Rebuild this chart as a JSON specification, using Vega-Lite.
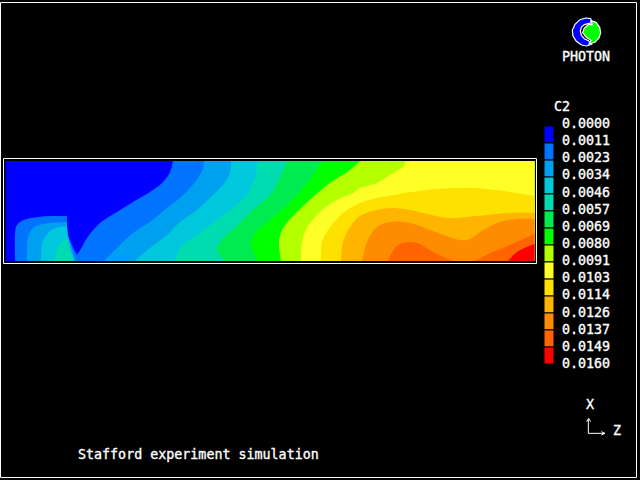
{"$schema":"https://vega.github.io/schema/vega-lite/v6.json","width":640,"height":480,"padding":0,"autosize":"none","background":"#000000","view":{"stroke":null},"config":{"axis":{"disable":true},"text":{"font":"DejaVu Sans Mono","fontSize":13.33,"color":"#ffffff","align":"left","baseline":"middle","stroke":"#ffffff","strokeWidth":0.35}},
"datasets":{
"contours":[
{"p":"0","i":0,"z":0.5,"x":0},{"p":"0","i":1,"z":0.5,"x":100},{"p":"0","i":1.5,"z":0.5,"x":100},{"p":"0","i":2,"z":529.5,"x":100},{"p":"0","i":2.5,"z":529.5,"x":100},{"p":"0","i":3,"z":529.5,"x":0},
{"p":"1","i":0,"z":10,"x":0},{"p":"1","i":1,"z":10,"x":26},{"p":"1","i":2,"z":11,"x":34},{"p":"1","i":3,"z":15,"x":39},{"p":"1","i":4,"z":22,"x":42},{"p":"1","i":5,"z":33,"x":44},{"p":"1","i":6,"z":45,"x":45},{"p":"1","i":7,"z":62,"x":45},{"p":"1","i":7.5,"z":62,"x":45},{"p":"1","i":8,"z":63,"x":26},{"p":"1","i":9,"z":72,"x":6},{"p":"1","i":9.5,"z":72,"x":6},{"p":"1","i":10,"z":77,"x":14},{"p":"1","i":11,"z":82,"x":23},{"p":"1","i":12,"z":95,"x":38},{"p":"1","i":13,"z":112,"x":49},{"p":"1","i":14,"z":128,"x":59},{"p":"1","i":15,"z":145,"x":69},{"p":"1","i":16,"z":158,"x":79},{"p":"1","i":17,"z":165,"x":89},{"p":"1","i":18,"z":168,"x":100},{"p":"1","i":18.5,"z":168,"x":100},{"p":"1","i":19,"z":529.5,"x":100},{"p":"1","i":19.5,"z":529.5,"x":100},{"p":"1","i":20,"z":529.5,"x":0},
{"p":"2a","i":0,"z":22,"x":0},{"p":"2a","i":1,"z":23,"x":23},{"p":"2a","i":2,"z":28,"x":33},{"p":"2a","i":3,"z":38,"x":37},{"p":"2a","i":4,"z":62,"x":39},{"p":"2a","i":4.5,"z":62,"x":39},{"p":"2a","i":5,"z":63,"x":26},{"p":"2a","i":6,"z":70,"x":3},{"p":"2a","i":6.5,"z":70,"x":3},{"p":"2a","i":7,"z":70,"x":0},
{"p":"2b","i":0,"z":99,"x":0},{"p":"2b","i":1,"z":112,"x":13},{"p":"2b","i":2,"z":128,"x":28},{"p":"2b","i":3,"z":145,"x":39},{"p":"2b","i":4,"z":162,"x":53},{"p":"2b","i":5,"z":175,"x":63},{"p":"2b","i":6,"z":185,"x":73},{"p":"2b","i":7,"z":193,"x":83},{"p":"2b","i":8,"z":198,"x":93},{"p":"2b","i":9,"z":199,"x":100},{"p":"2b","i":9.5,"z":199,"x":100},{"p":"2b","i":10,"z":529.5,"x":100},{"p":"2b","i":10.5,"z":529.5,"x":100},{"p":"2b","i":11,"z":529.5,"x":0},
{"p":"3a","i":0,"z":36,"x":0},{"p":"3a","i":1,"z":37,"x":16},{"p":"3a","i":2,"z":40,"x":24},{"p":"3a","i":3,"z":48,"x":32},{"p":"3a","i":4,"z":62,"x":35},{"p":"3a","i":4.5,"z":62,"x":35},{"p":"3a","i":5,"z":63,"x":24},{"p":"3a","i":6,"z":69,"x":1},{"p":"3a","i":6.5,"z":69,"x":1},{"p":"3a","i":7,"z":69,"x":0},
{"p":"3b","i":0,"z":130,"x":0},{"p":"3b","i":1,"z":145,"x":13},{"p":"3b","i":2,"z":162,"x":26},{"p":"3b","i":3,"z":175,"x":39},{"p":"3b","i":4,"z":192,"x":51},{"p":"3b","i":5,"z":208,"x":66},{"p":"3b","i":6,"z":218,"x":76},{"p":"3b","i":7,"z":225,"x":89},{"p":"3b","i":8,"z":226,"x":100},{"p":"3b","i":8.5,"z":226,"x":100},{"p":"3b","i":9,"z":529.5,"x":100},{"p":"3b","i":9.5,"z":529.5,"x":100},{"p":"3b","i":10,"z":529.5,"x":0},
{"p":"4a","i":0,"z":50,"x":0},{"p":"4a","i":1,"z":52,"x":11},{"p":"4a","i":2,"z":57,"x":19},{"p":"4a","i":3,"z":62,"x":21},{"p":"4a","i":3.5,"z":62,"x":21},{"p":"4a","i":4,"z":68,"x":0},
{"p":"4b","i":0,"z":170,"x":0},{"p":"4b","i":1,"z":175,"x":13},{"p":"4b","i":2,"z":192,"x":26},{"p":"4b","i":3,"z":208,"x":38},{"p":"4b","i":4,"z":225,"x":51},{"p":"4b","i":5,"z":242,"x":66},{"p":"4b","i":6,"z":250,"x":83},{"p":"4b","i":7,"z":253,"x":100},{"p":"4b","i":7.5,"z":253,"x":100},{"p":"4b","i":8,"z":529.5,"x":100},{"p":"4b","i":8.5,"z":529.5,"x":100},{"p":"4b","i":9,"z":529.5,"x":0},
{"p":"5","i":0,"z":220,"x":0},{"p":"5","i":1,"z":212,"x":11},{"p":"5","i":2,"z":217,"x":21},{"p":"5","i":3,"z":233,"x":36},{"p":"5","i":4,"z":248,"x":51},{"p":"5","i":5,"z":265,"x":66},{"p":"5","i":6,"z":275,"x":83},{"p":"5","i":7,"z":282,"x":100},{"p":"5","i":7.5,"z":282,"x":100},{"p":"5","i":8,"z":529.5,"x":100},{"p":"5","i":8.5,"z":529.5,"x":100},{"p":"5","i":9,"z":529.5,"x":0},
{"p":"6","i":0,"z":252,"x":0},{"p":"6","i":1,"z":246,"x":18},{"p":"6","i":2,"z":250,"x":28},{"p":"6","i":3,"z":265,"x":41},{"p":"6","i":4,"z":282,"x":56},{"p":"6","i":5,"z":298,"x":73},{"p":"6","i":6,"z":308,"x":86},{"p":"6","i":7,"z":317,"x":100},{"p":"6","i":7.5,"z":317,"x":100},{"p":"6","i":8,"z":529.5,"x":100},{"p":"6","i":8.5,"z":529.5,"x":100},{"p":"6","i":9,"z":529.5,"x":0},
{"p":"7","i":0,"z":276,"x":0},{"p":"7","i":1,"z":274,"x":19},{"p":"7","i":2,"z":278,"x":33},{"p":"7","i":3,"z":292,"x":49},{"p":"7","i":4,"z":308,"x":64},{"p":"7","i":5,"z":325,"x":78},{"p":"7","i":6,"z":345,"x":91},{"p":"7","i":7,"z":355,"x":100},{"p":"7","i":7.5,"z":355,"x":100},{"p":"7","i":8,"z":529.5,"x":100},{"p":"7","i":8.5,"z":529.5,"x":100},{"p":"7","i":9,"z":529.5,"x":0},
{"p":"8","i":0,"z":296,"x":0},{"p":"8","i":1,"z":297,"x":19},{"p":"8","i":2,"z":302,"x":33},{"p":"8","i":3,"z":315,"x":49},{"p":"8","i":4,"z":332,"x":61},{"p":"8","i":5,"z":348,"x":68},{"p":"8","i":6,"z":355,"x":73},{"p":"8","i":7,"z":372,"x":78},{"p":"8","i":8,"z":388,"x":88},{"p":"8","i":9,"z":398,"x":94},{"p":"8","i":10,"z":401,"x":100},{"p":"8","i":10.5,"z":401,"x":100},{"p":"8","i":11,"z":529.5,"x":100},{"p":"8","i":11.5,"z":529.5,"x":100},{"p":"8","i":12,"z":529.5,"x":0},
{"p":"9","i":0,"z":316,"x":0},{"p":"9","i":1,"z":317,"x":19},{"p":"9","i":2,"z":323,"x":31},{"p":"9","i":3,"z":338,"x":48},{"p":"9","i":4,"z":355,"x":58},{"p":"9","i":5,"z":372,"x":63},{"p":"9","i":6,"z":388,"x":66},{"p":"9","i":7,"z":422,"x":71},{"p":"9","i":8,"z":448,"x":73},{"p":"9","i":9,"z":472,"x":73},{"p":"9","i":10,"z":505,"x":69},{"p":"9","i":11,"z":529.5,"x":65},{"p":"9","i":11.5,"z":529.5,"x":65},{"p":"9","i":12,"z":529.5,"x":0},
{"p":"10","i":0,"z":336,"x":0},{"p":"10","i":1,"z":338,"x":19},{"p":"10","i":2,"z":345,"x":34},{"p":"10","i":3,"z":355,"x":45},{"p":"10","i":4,"z":372,"x":51},{"p":"10","i":5,"z":388,"x":53},{"p":"10","i":6,"z":405,"x":51},{"p":"10","i":7,"z":422,"x":47},{"p":"10","i":8,"z":445,"x":43},{"p":"10","i":9,"z":472,"x":45},{"p":"10","i":10,"z":505,"x":48},{"p":"10","i":11,"z":529.5,"x":48},{"p":"10","i":11.5,"z":529.5,"x":48},{"p":"10","i":12,"z":529.5,"x":0},
{"p":"11","i":0,"z":357,"x":0},{"p":"11","i":1,"z":362,"x":19},{"p":"11","i":2,"z":372,"x":34},{"p":"11","i":3,"z":385,"x":39},{"p":"11","i":4,"z":405,"x":38},{"p":"11","i":5,"z":428,"x":30},{"p":"11","i":6,"z":455,"x":21},{"p":"11","i":7,"z":465,"x":22},{"p":"11","i":8,"z":478,"x":31},{"p":"11","i":9,"z":495,"x":39},{"p":"11","i":10,"z":512,"x":42},{"p":"11","i":11,"z":529.5,"x":42},{"p":"11","i":11.5,"z":529.5,"x":42},{"p":"11","i":12,"z":529.5,"x":0},
{"p":"12a","i":0,"z":383,"x":0},{"p":"12a","i":1,"z":390,"x":13},{"p":"12a","i":2,"z":398,"x":18},{"p":"12a","i":3,"z":412,"x":18},{"p":"12a","i":4,"z":428,"x":9},{"p":"12a","i":5,"z":448,"x":0},
{"p":"12b","i":0,"z":470,"x":0},{"p":"12b","i":1,"z":488,"x":9},{"p":"12b","i":2,"z":512,"x":19},{"p":"12b","i":3,"z":529.5,"x":27},{"p":"12b","i":3.5,"z":529.5,"x":27},{"p":"12b","i":4,"z":529.5,"x":0},
{"p":"13","i":0,"z":503,"x":0},{"p":"13","i":1,"z":512,"x":9},{"p":"13","i":2,"z":522,"x":14},{"p":"13","i":3,"z":529.5,"x":17},{"p":"13","i":3.5,"z":529.5,"x":17},{"p":"13","i":4,"z":529.5,"x":0}
],
"bands":[
{"lo":0,"hi":0.00114,"band":"0"},{"lo":0.00114,"hi":0.00229,"band":"1"},{"lo":0.00229,"hi":0.00343,"band":"2"},{"lo":0.00343,"hi":0.00457,"band":"3"},{"lo":0.00457,"hi":0.00571,"band":"4"},{"lo":0.00571,"hi":0.00686,"band":"5"},{"lo":0.00686,"hi":0.008,"band":"6"},{"lo":0.008,"hi":0.00914,"band":"7"},{"lo":0.00914,"hi":0.01029,"band":"8"},{"lo":0.01029,"hi":0.01143,"band":"9"},{"lo":0.01143,"hi":0.01257,"band":"10"},{"lo":0.01257,"hi":0.01371,"band":"11"},{"lo":0.01371,"hi":0.01486,"band":"12"},{"lo":0.01486,"hi":0.016,"band":"13"}
],
"levels":[{"v":0},{"v":0.00114},{"v":0.00229},{"v":0.00343},{"v":0.00457},{"v":0.00571},{"v":0.00686},{"v":0.008},{"v":0.00914},{"v":0.01029},{"v":0.01143},{"v":0.01257},{"v":0.01371},{"v":0.01486},{"v":0.016}],
"logo":[
{"p":"blue","i":0,"a":78,"b":20},{"p":"blue","i":1,"a":62,"b":18},{"p":"blue","i":2,"a":45,"b":23},{"p":"blue","i":3,"a":30,"b":37},{"p":"blue","i":4,"a":22,"b":55},{"p":"blue","i":5,"a":24,"b":72},{"p":"blue","i":6,"a":34,"b":88},{"p":"blue","i":7,"a":50,"b":99},{"p":"blue","i":8,"a":65,"b":102},{"p":"blue","i":9,"a":80,"b":97},{"p":"blue","i":10,"a":70,"b":86},{"p":"blue","i":11,"a":58,"b":80},{"p":"blue","i":12,"a":49,"b":70},{"p":"blue","i":13,"a":46,"b":57},{"p":"blue","i":14,"a":49,"b":46},{"p":"blue","i":15,"a":58,"b":38},{"p":"blue","i":16,"a":70,"b":35},{"p":"blue","i":17,"a":78,"b":33},{"p":"blue","i":18,"a":78,"b":20},
{"p":"green","i":0,"a":78,"b":26},{"p":"green","i":1,"a":93,"b":31},{"p":"green","i":2,"a":104,"b":46},{"p":"green","i":3,"a":107,"b":62},{"p":"green","i":4,"a":102,"b":78},{"p":"green","i":5,"a":90,"b":91},{"p":"green","i":6,"a":72,"b":96},{"p":"green","i":7,"a":78,"b":85},{"p":"green","i":8,"a":64,"b":76},{"p":"green","i":9,"a":53,"b":62},{"p":"green","i":10,"a":58,"b":48},{"p":"green","i":11,"a":70,"b":38},{"p":"green","i":12,"a":82,"b":38},{"p":"green","i":13,"a":78,"b":26}
],
"triad":[
{"p":"axes","i":0,"a":145,"b":118},{"p":"axes","i":1,"a":145,"b":160},{"p":"axes","i":2,"a":192,"b":160},
{"p":"up","i":0,"a":140,"b":125},{"p":"up","i":1,"a":146,"b":115},{"p":"up","i":2,"a":152,"b":125},
{"p":"right","i":0,"a":184,"b":155},{"p":"right","i":1,"a":195,"b":160},{"p":"right","i":2,"a":184,"b":165}
]
},
"layer":[
{"data":{"name":"contours"},"mark":{"type":"line","strokeWidth":0,"interpolate":"catmull-rom"},"encoding":{
"x":{"field":"z","type":"quantitative","scale":{"domain":[0,529.5],"range":[5,534.5]},"axis":null},
"y":{"field":"x","type":"quantitative","scale":{"domain":[0,100],"range":[261,161]},"axis":null},
"order":{"field":"i","type":"quantitative"},
"fill":{"field":"p","type":"nominal","legend":null,"scale":{"domain":["0","1","2a","2b","3a","3b","4a","4b","5","6","7","8","9","10","11","12a","12b","13"],"range":["#0000ff","#0073ff","#00a0f0","#00a0f0","#00c8dc","#00c8dc","#00dcb0","#00dcb0","#00eb50","#00ff00","#b4ff00","#ffff28","#ffe100","#ffb400","#ff8c00","#ff6400","#ff6400","#ff0000"]}}
}},
{"data":{"name":"bands"},"mark":{"type":"rect","stroke":"#000000","strokeWidth":1,"x":544,"x2":554},"encoding":{
"y":{"field":"lo","type":"quantitative","scale":{"domain":[0,0.016],"range":[126,364]},"axis":null},
"y2":{"field":"hi"},
"fill":{"field":"band","type":"nominal","legend":null,"scale":{"domain":["0","1","2","3","4","5","6","7","8","9","10","11","12","13"],"range":["#0000ff","#0073ff","#00a0f0","#00c8dc","#00dcb0","#00eb50","#00ff00","#b4ff00","#ffff28","#ffe100","#ffb400","#ff8c00","#ff6400","#ff0000"]}}
}},
{"data":{"name":"levels"},"mark":{"type":"text","x":562},"encoding":{
"y":{"field":"v","type":"quantitative","scale":{"domain":[0,0.016],"range":[124,364]},"axis":null},
"text":{"field":"v","type":"quantitative","format":".4f"}
}},
{"data":{"name":"logo"},"mark":{"type":"line","stroke":"#ffffff","strokeWidth":1.2},"encoding":{
"x":{"field":"a","type":"quantitative","scale":{"domain":[0,120],"range":[565,605]},"axis":null},
"y":{"field":"b","type":"quantitative","scale":{"domain":[0,120],"range":[12,52]},"axis":null},
"order":{"field":"i","type":"quantitative"},
"fill":{"field":"p","type":"nominal","legend":null,"scale":{"domain":["blue","green"],"range":["#0000ff","#00ff00"]}}
}},
{"data":{"name":"triad"},"mark":{"type":"line","stroke":"#ffffff","strokeWidth":1},"encoding":{
"x":{"field":"a","type":"quantitative","scale":{"domain":[0,300],"range":[540,640]},"axis":null},
"y":{"field":"b","type":"quantitative","scale":{"domain":[0,300],"range":[380,480]},"axis":null},
"order":{"field":"i","type":"quantitative"},
"detail":{"field":"p"}
}},
{"data":{"values":[{}]},"mark":{"type":"rect","filled":false,"stroke":"#ffffff","strokeWidth":1,"x":0.5,"x2":636.5,"y":2.5,"y2":477.5},"encoding":{}},
{"data":{"values":[{}]},"mark":{"type":"rect","filled":false,"stroke":"#ffffff","strokeWidth":1,"x":3.5,"x2":536.5,"y":158.5,"y2":263.5},"encoding":{}},
{"data":{"values":[{}]},"mark":{"type":"rule","stroke":"#ffffff","strokeWidth":1,"x":541.5,"y":2.5,"y2":477.5},"encoding":{}},
{"data":{"values":[{"t":"PHOTON"}]},"mark":{"type":"text","x":562,"y":57},"encoding":{"text":{"field":"t"}}},
{"data":{"values":[{"t":"C2"}]},"mark":{"type":"text","x":554,"y":107},"encoding":{"text":{"field":"t"}}},
{"data":{"values":[{"t":"X"}]},"mark":{"type":"text","x":586,"y":405},"encoding":{"text":{"field":"t"}}},
{"data":{"values":[{"t":"Z"}]},"mark":{"type":"text","x":613,"y":431},"encoding":{"text":{"field":"t"}}},
{"data":{"values":[{"t":"Stafford experiment simulation"}]},"mark":{"type":"text","x":78,"y":455},"encoding":{"text":{"field":"t"}}}
],
"resolve":{"scale":{"x":"independent","y":"independent","fill":"independent"}}
}
